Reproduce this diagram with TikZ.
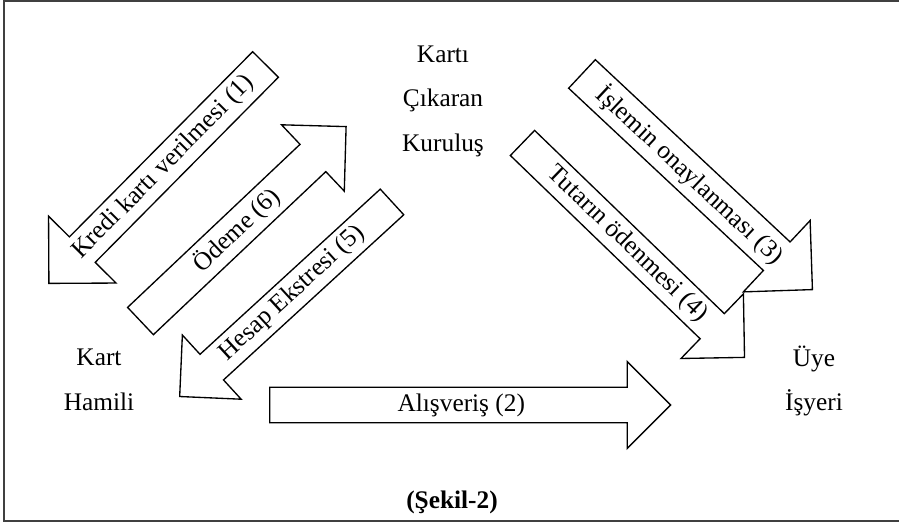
\documentclass[tikz,border=0pt]{standalone}
\usepackage{fontspec}
\setmainfont{Liberation Serif}
\usepackage{tikz}
\usetikzlibrary{shapes}

\begin{document}
\begin{tikzpicture}[
    x=0.75pt, y=-0.75pt,
    party/.style={align=center, font=\fontsize{19}{33.4}\selectfont},
    flow/.style={single arrow, draw=black, fill=white, line width=1pt,
        single arrow tip angle=90, inner sep=2pt, anchor=tail,
        font=\fontsize{19}{23}\selectfont}
]
\useasboundingbox (0,0) rectangle (899,524);

% Frame
\draw[line width=1pt, black!75] (4,1) rectangle (905,521);

% Parties
\node[party] (kurulus) at (443,101) {Kartı\\Çıkaran\\Kuruluş};
\node[party] (hamil) at (99,380) {Kart\\Hamili};
\node[party] (isyeri) at (814,381) {Üye\\İşyeri};

% Flows between the parties
\node[flow, rotate=45.3, shape border rotate=180, minimum height=231pt,
    minimum width=71.25pt, single arrow head extend=18pt]
    (verilme) at (266,64) {Kredi kartı verilmesi (1)};
\node[flow, minimum height=300.75pt, minimum width=65.25pt,
    single arrow head extend=16.1pt]
    (alisveris) at (269,405) {Alışveriş (2)};
\node[flow, rotate=-43.1, minimum height=236.7pt, minimum width=73.3pt,
    single arrow head extend=18.6pt]
    (onay) at (581.5,73.5) {İşlemin onaylanması (3)};
\node[flow, rotate=-44, minimum height=231.5pt, minimum width=67.35pt,
    single arrow head extend=17.5pt]
    (odenme) at (522,142.5) {Tutarın ödenmesi (4)};
\node[flow, rotate=42.5, shape border rotate=180, minimum height=216pt,
    minimum width=65.25pt, single arrow head extend=16.7pt]
    (ekstre) at (392.5,201.5) {Hesap Ekstresi (5)};
\node[flow, rotate=43.4, minimum height=212.25pt, minimum width=68.5pt,
    single arrow head extend=17.5pt]
    (odeme) at (140,321.5) {Ödeme (6)};

% Caption
\node[anchor=base, font=\fontsize{19}{23}\selectfont\bfseries]
    (sekil) at (452,508) {(Şekil-2)};

\end{tikzpicture}
\end{document}
